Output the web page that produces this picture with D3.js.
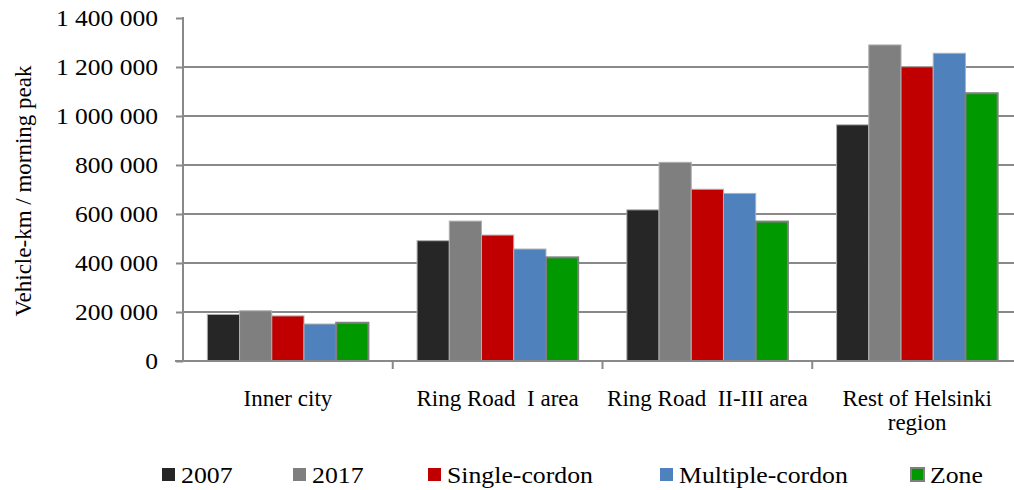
<!DOCTYPE html>
<html>
<head>
<meta charset="utf-8">
<script src="https://cdn.jsdelivr.net/npm/d3@7"></script>
<style>
  body { margin: 0; background: #fff; }
  text { font-family: "Liberation Serif", "Times New Roman", serif; fill: #000; }
</style>
</head>
<body>
<div class="chart"></div>
<script>
// data
const categories = ["Inner city", "Ring Road  I area", "Ring Road  II-III area", "Rest of Helsinki region"];
const seriesNames = ["2007", "2017", "Single-cordon", "Multiple-cordon", "Zone"];
const v2007 = [190000, 491000, 617000, 964000];
const v2017 = [205000, 571000, 811000, 1290000];
const vSingle = [184000, 514000, 701000, 1201000];
const vMultiple = [151000, 457000, 684000, 1256000];
const vZone = [156000, 423000, 569000, 1093000];
const yTicks = [0, 200000, 400000, 600000, 800000, 1000000, 1200000, 1400000];

const colors = ["#262626", "#7f7f7f", "#c00000", "#4f81bd", "#009900"];
const seriesValues = [v2007, v2017, vSingle, vMultiple, vZone];

const W = 1014, H = 490;
const margin = {top: 18, right: -8, bottom: 129, left: 183};
const width = W - margin.left - margin.right,
      height = H - margin.top - margin.bottom;

const svg = d3.select(".chart")
    .append("svg")
    .attr("width", W)
    .attr("height", H);

const g = svg.append("g")
    .attr("transform", `translate(${margin.left},${margin.top})`);

// stretch text sideways a bit, the source font runs wider than Liberation Serif
function widen(sel, k) {
    sel.each(function() {
        const len = this.getComputedTextLength();
        d3.select(this)
            .attr("textLength", len * k)
            .attr("lengthAdjust", "spacingAndGlyphs");
    });
}

// scales
const x0 = d3.scaleBand()
    .domain(categories)
    .range([0, width])
    .padding(0);

const pad = x0.bandwidth() * 0.116;
const x1 = d3.scaleBand()
    .domain(seriesNames)
    .range([pad, x0.bandwidth() - pad])
    .padding(0);

const y = d3.scaleLinear()
    .domain([0, 1400000])
    .range([height, 0]);

const fmt = v => d3.format(",")(v).replace(/,/g, " ");

// gridlines
g.append("g")
    .selectAll("line")
    .data(yTicks.filter(t => t > 0 && t < 1400000))
    .join("line")
    .attr("x1", 0)
    .attr("x2", width)
    .attr("y1", d => y(d))
    .attr("y2", d => y(d))
    .attr("stroke", "#898989")
    .attr("stroke-width", 2);

// bars
const groups = g.selectAll(".grp")
    .data(categories)
    .join("g")
    .attr("class", "grp")
    .attr("transform", d => `translate(${x0(d)},0)`);

groups.selectAll("rect")
    .data((c, i) => seriesNames.map((s, j) => ({s: s, j: j, v: seriesValues[j][i]})))
    .join("rect")
    .attr("x", d => x1(d.s))
    .attr("y", d => y(d.v))
    .attr("width", x1.bandwidth())
    .attr("height", d => height - y(d.v))
    .attr("fill", d => colors[d.j])
    .attr("stroke", d => d.j === 4 ? "#7f7f7f" : "#b0b0b0")
    .attr("stroke-width", d => d.j === 4 ? 2 : 1);

// y axis
const yAxis = d3.axisLeft(y)
    .tickValues(yTicks)
    .tickSize(7)
    .tickPadding(18)
    .tickFormat(fmt);

const ya = g.append("g")
    .attr("class", "axis y-axis")
    .call(yAxis);
ya.select(".domain").attr("stroke", "#898989").attr("stroke-width", 2).attr("d", `M0,${height + 1}V${-1}`);
ya.selectAll(".tick line").attr("stroke", "#898989").attr("stroke-width", 2);
ya.selectAll(".tick text").style("font-size", "23px").attr("fill", "#000").call(widen, 1.11);

// x axis
const xAxis = d3.axisBottom(x0).tickSize(0).tickFormat("");
const xa = g.append("g")
    .attr("class", "axis x-axis")
    .attr("transform", `translate(0,${height})`)
    .call(xAxis);
xa.select(".domain").attr("stroke", "#898989").attr("stroke-width", 2).attr("d", `M-8,0H${width}`);

// category separator ticks
xa.selectAll(".sep")
    .data(categories.slice(1))
    .join("line")
    .attr("class", "sep")
    .attr("x1", d => x0(d))
    .attr("x2", d => x0(d))
    .attr("y1", 0)
    .attr("y2", 8)
    .attr("stroke", "#898989")
    .attr("stroke-width", 2);

// category labels (wrapped like the original)
const labelLines = {
    "Inner city": ["Inner city"],
    "Ring Road  I area": ["Ring Road  I area"],
    "Ring Road  II-III area": ["Ring Road  II-III area"],
    "Rest of Helsinki region": ["Rest of Helsinki", "region"]
};
xa.selectAll(".cat")
    .data(categories)
    .join("text")
    .attr("class", "cat")
    .attr("text-anchor", "middle")
    .style("font-size", "23px")
    .style("white-space", "pre")
    .attr("transform", d => `translate(${x0(d) + x0.bandwidth() / 2},45)`)
    .selectAll("tspan")
    .data(d => labelLines[d])
    .join("tspan")
    .attr("x", 0)
    .attr("dy", (d, i) => i === 0 ? 0 : 24)
    .text(d => d);

// y axis title
svg.append("text")
    .attr("transform", "translate(31,191) rotate(-90)")
    .attr("text-anchor", "middle")
    .style("font-size", "23px")
    .text("Vehicle-km / morning peak");

// legend
const legendX = [162, 293, 428, 660, 911];
const legend = svg.append("g")
    .selectAll("g")
    .data(seriesNames)
    .join("g")
    .attr("transform", (d, i) => `translate(${legendX[i]},468)`);

legend.append("rect")
    .attr("width", 13)
    .attr("height", 13)
    .attr("fill", (d, i) => colors[i])
    .attr("stroke", (d, i) => i === 4 ? "#7f7f7f" : "none")
    .attr("stroke-width", 2);

legend.append("text")
    .attr("x", 19)
    .attr("y", 15)
    .style("font-size", "23px")
    .text(d => d)
    .call(widen, 1.12);
</script>
</body>
</html>
